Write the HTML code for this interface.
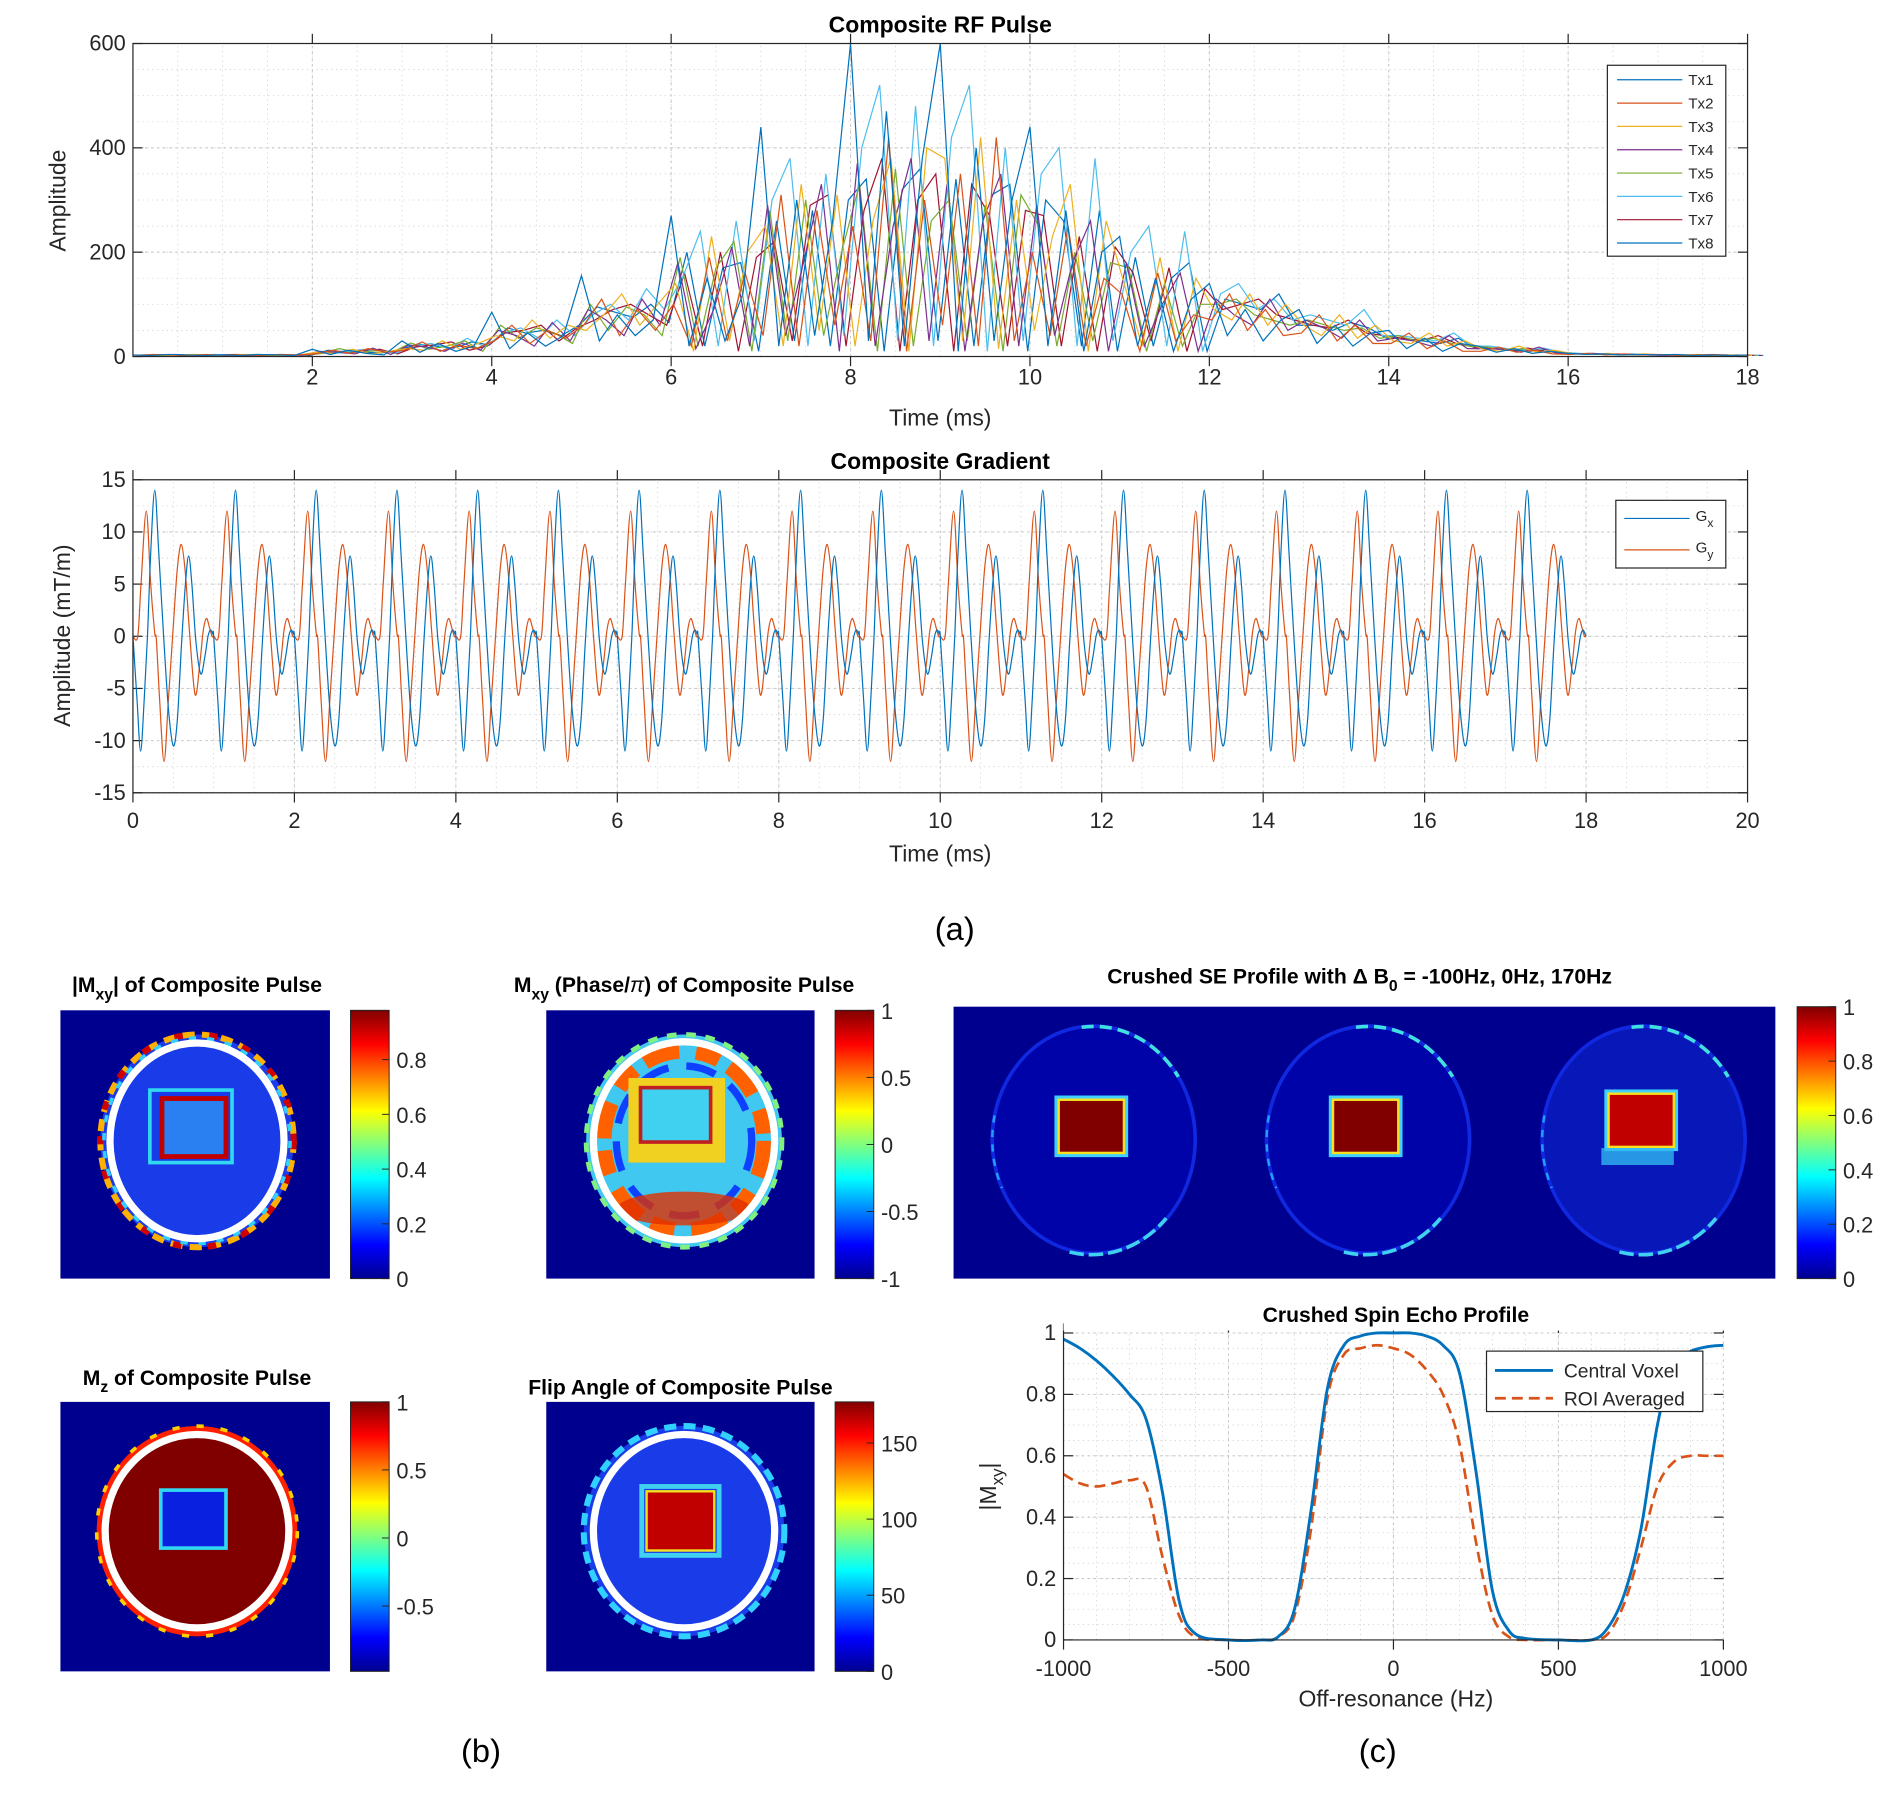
<!DOCTYPE html>
<html><head><meta charset="utf-8"><style>
html,body{margin:0;padding:0;background:#fff}
svg{display:block}
text{font-family:"Liberation Sans",Arial,sans-serif;fill:#262626}
.t{font-weight:bold;font-size:19px;fill:#000}
.tk{font-size:18px}
.lab{font-size:19px}
</style></head><body>
<svg id="fig" width="1895" height="1795" viewBox="0 0 1568 1485.3" preserveAspectRatio="none" xmlns="http://www.w3.org/2000/svg">
<defs>
<linearGradient id="jet" x1="0" y1="0" x2="0" y2="1">
<stop offset="0" stop-color="#800000"/><stop offset="0.125" stop-color="#ff0000"/><stop offset="0.375" stop-color="#ffff00"/><stop offset="0.625" stop-color="#00ffff"/><stop offset="0.875" stop-color="#0000ff"/><stop offset="1" stop-color="#00008f"/>
</linearGradient>
</defs>
<g id="root"></g>
</svg>
<script>
// ---------- RF pulse data (amplitude sampled every 0.2 ms) ----------
const rfTimeStep = 0.2;
const tx1 = [3,2,4,3,2,3,2,4,3,2, 14,4,12,6,3, 30,8,25,10,20, 85,15,45,20,40, 155,30,80,40,70, 270,20,150,30,120, 440,20,300,40,260, 600,30,470,20,380, 600,10,400,30,300, 440,20,280,10,200, 230,20,150,10,110, 140,40,90,30,70, 90,25,60,20,45, 50,15,35,10,25, 20,8,15,6,10, 6,4,5,3,4,3,4,2,3,2,3];
const tx2 = [2,4,3,2,4,2,3,2,4,3, 5,12,6,15,8, 12,28,10,22,15, 30,60,25,50,35, 60,110,40,90,50, 100,20,190,30,160, 40,310,20,280,60, 250,30,420,10,300, 60,350,20,420,30, 200,40,250,20,150, 120,10,160,30,80, 70,120,50,90,40, 45,80,30,60,25, 25,45,15,30,10, 10,18,8,12,5, 4,6,3,5,3,4,2,3,4,2,3];
const tx3 = [3,3,2,4,3,2,4,3,2,3, 8,6,14,5,10, 15,12,30,14,25, 40,30,70,35,60, 50,80,120,60,100, 140,10,230,30,200, 250,20,330,50,310, 20,260,380,10,400, 380,30,420,15,300, 50,230,330,10,260, 140,20,190,10,150, 90,70,120,60,100, 60,40,80,35,60, 30,25,45,20,30, 14,10,20,8,12, 5,4,6,3,5,3,3,4,2,3,2];
const tx4 = [2,3,4,2,3,3,2,3,4,2, 10,8,5,16,4, 22,18,10,26,12, 50,40,20,65,30, 90,70,40,110,60, 180,15,90,210,20, 290,40,180,330,10, 370,20,250,380,30, 330,10,260,350,20, 290,40,180,260,10, 180,20,100,160,10, 110,80,60,110,50, 70,55,35,70,30, 35,30,20,40,15, 15,14,8,18,6, 5,6,4,4,3,2,3,3,2,3,2];
const tx5 = [3,2,3,4,2,3,3,2,3,3, 6,15,8,11,9, 26,14,20,30,10, 60,35,55,45,25, 100,50,95,80,40, 190,20,170,220,10, 280,30,300,40,200, 330,10,360,20,260, 300,30,290,10,310, 250,20,200,30,180, 170,10,140,20,100, 100,110,80,70,60, 70,60,50,55,35, 40,30,35,25,20, 18,12,15,10,8, 5,4,4,3,3,3,2,3,3,2,2];
const tx6 = [2,2,3,3,4,2,2,3,3,4, 9,7,13,12,6, 20,25,15,35,18, 45,55,35,70,40, 80,100,70,130,90, 150,240,20,260,30, 300,380,20,350,40, 400,520,30,480,20, 420,520,10,400,30, 350,400,20,380,30, 200,250,20,240,10, 120,140,90,110,70, 80,70,60,90,40, 40,35,30,45,20, 20,15,12,16,8, 6,5,4,5,3,3,3,2,3,2,2];
const tx7 = [3,3,2,2,3,4,3,2,3,3, 7,10,9,14,5, 18,22,28,12,20, 45,50,60,30,55, 70,90,100,80,60, 160,20,200,10,190, 220,30,290,310,20, 280,380,10,300,350, 10,330,270,20,280, 270,20,230,10,210, 160,30,170,10,130, 90,100,110,80,70, 60,55,70,45,40, 35,30,40,25,18, 15,12,16,10,6, 5,4,5,3,4,3,3,2,3,2,2];
const tx8 = [2,3,2,3,3,2,4,3,3,2, 12,9,8,7,13, 24,20,16,28,22, 55,45,50,40,60, 95,85,75,100,65, 200,20,170,180,10, 260,30,280,20,300, 340,10,320,360,30, 340,20,310,330,10, 300,260,20,280,10, 190,20,150,180,10, 110,100,90,120,60, 60,50,65,55,35, 35,30,25,35,15, 16,12,10,14,6, 5,5,3,4,3,3,2,3,3,2,2];
const rfNames = ["Tx1","Tx2","Tx3","Tx4","Tx5","Tx6","Tx7","Tx8"];
const rfXTicks = [2,4,6,8,10,12,14,16,18];
const rfYTicks = [0,200,400,600];
// ---------- Gradient data (one 1 ms period, repeated 18 times) ----------
const gxT = [0,0.05,0.095,0.14,0.18,0.22,0.27,0.32,0.38,0.44,0.5,0.55,0.6,0.65,0.69,0.73,0.78,0.84,0.89,0.93,0.96,0.99];
const gxV = [0,-6,-11,-6,0,8,14,8,0,-7,-10.5,-8,-1,5,7.7,5,-0.5,-3.6,-2,0,0.6,0.2];
const gyT = [0,0.06,0.1,0.165,0.22,0.27,0.29,0.33,0.385,0.44,0.5,0.55,0.6,0.65,0.7,0.77,0.83,0.87,0.91,0.95,0.98];
const gyV = [0,0,5,12,5,0.3,-0.3,-6,-12,-6,1,6.5,8.8,6,0.5,-5.6,-2.5,0.5,1.7,0.8,0];
const gradPeriods = 18;
const gXTicks = [0,2,4,6,8,10,12,14,16,18,20];
const gYTicks = [-15,-10,-5,0,5,10,15];
// ---------- Crushed spin echo profile ----------
const profHz = [-1000,-950,-900,-850,-800,-750,-700,-650,-600,-500,-400,-350,-300,-250,-200,-150,-100,-50,0,50,100,150,200,250,300,350,400,500,600,650,700,750,800,850,900,950,1000];
const centralVoxel = [0.98,0.95,0.91,0.86,0.80,0.72,0.48,0.13,0.02,0,0,0.01,0.1,0.42,0.82,0.96,0.99,1.0,1.0,1.0,0.99,0.96,0.87,0.55,0.16,0.03,0.005,0,0,0.04,0.15,0.36,0.70,0.90,0.94,0.955,0.96];
const roiAveraged = [0.54,0.51,0.50,0.51,0.52,0.50,0.27,0.08,0.01,0,0,0.01,0.08,0.36,0.79,0.93,0.95,0.96,0.95,0.93,0.88,0.80,0.64,0.32,0.08,0.01,0,0,0,0.02,0.12,0.30,0.50,0.58,0.60,0.60,0.60];
const profXTicks = [-1000,-500,0,500,1000];
const profYTicks = [0,0.2,0.4,0.6,0.8,1];

const NS="http://www.w3.org/2000/svg";
const root=document.getElementById('root');
function el(tag,attrs,parent,txt){const e=document.createElementNS(NS,tag);for(const k in attrs)e.setAttribute(k,attrs[k]);if(txt!==undefined)e.textContent=txt;(parent||root).appendChild(e);return e;}
function smoothPath(pts){let d='M'+pts[0][0].toFixed(2)+','+pts[0][1].toFixed(2);for(let i=0;i<pts.length-1;i++){const p0=pts[Math.max(i-1,0)],p1=pts[i],p2=pts[i+1],p3=pts[Math.min(i+2,pts.length-1)];const c1=[p1[0]+(p2[0]-p0[0])/6,p1[1]+(p2[1]-p0[1])/6],c2=[p2[0]-(p3[0]-p1[0])/6,p2[1]-(p3[1]-p1[1])/6];d+='C'+c1[0].toFixed(2)+','+c1[1].toFixed(2)+' '+c2[0].toFixed(2)+','+c2[1].toFixed(2)+' '+p2[0].toFixed(2)+','+p2[1].toFixed(2);}return d;}
function axesFrame(g,x0,x1,y0,y1,xs,ys,xMinor,yMinor,xTicks,yTicks,fmtX,fmtY,tickY){
  xMinor.forEach(v=>{const x=xs(v);const l=el('line',{x1:x,x2:x,y1:y0,y2:y1,stroke:'#d0d0d0','stroke-width':0.7,'stroke-dasharray':'1,3'},g);});
  yMinor.forEach(v=>{const y=ys(v);const l=el('line',{x1:x0,x2:x1,y1:y,y2:y,stroke:'#d0d0d0','stroke-width':0.7,'stroke-dasharray':'1,3'},g);});
  xTicks.forEach(v=>{const x=xs(v);el('line',{x1:x,x2:x,y1:y0,y2:y1,stroke:'#c8c8c8','stroke-width':0.9,'stroke-dasharray':'2,3'},g);el('line',{x1:x,x2:x,y1:y1,y2:y1-8,stroke:'#262626','stroke-width':1},g);el('line',{x1:x,x2:x,y1:y0,y2:y0+8,stroke:'#262626','stroke-width':1},g);
    const t=el('text',{x:x,y:tickY,'text-anchor':'middle',class:'tk'},g,fmtX(v));});
  yTicks.forEach(v=>{const y=ys(v);el('line',{x1:x0,x2:x1,y1:y,y2:y,stroke:'#c8c8c8','stroke-width':0.9,'stroke-dasharray':'2,3'},g);el('line',{x1:x0,x2:x0+8,y1:y,y2:y,stroke:'#262626','stroke-width':1},g);el('line',{x1:x1,x2:x1-8,y1:y,y2:y,stroke:'#262626','stroke-width':1},g);
    const t=el('text',{x:x0-6,y:y+6,'text-anchor':'end',class:'tk'},g,fmtY(v));});
}
function range(a,b,s){const r=[];for(let v=a;v<=b+1e-9;v+=s)r.push(+v.toFixed(6));return r;}

// ================= RF plot =================
(function(){
  const g=el('g',{});  
  const x0=110,x1=1446,y0=295,y1=36;
  const xs=t=>x0+(t/18)*(x1-x0), ys=v=>y0-(v/600)*(y0-y1);
  el('rect',{x:x0,y:y1,width:x1-x0,height:y0-y1,fill:'#fff'},g);
  axesFrame(g,x0,x1,y0,y1,xs,ys,range(0.5,18,0.5),range(50,600,50),rfXTicks,rfYTicks,v=>v,v=>v,318);
  const colors=['#0072BD','#D95319','#EDB120','#7E2F8E','#77AC30','#4DBEEE','#A2142F','#0072BD'];
  const series=[tx1,tx2,tx3,tx4,tx5,tx6,tx7,tx8];
  const order=[7,6,5,4,3,2,1,0];
  order.forEach(k=>{const data=series[k];const pts=data.map((v,i)=>xs(i*rfTimeStep+k*0.025)+','+ys(v).toFixed(1));
    const p=el('polyline',{points:pts.join(' '),fill:'none',stroke:colors[k],'stroke-width':1},g);
     });
  el('rect',{x:x0,y:y1,width:x1-x0,height:y0-y1,fill:'none',stroke:'#262626','stroke-width':1},g);
  const tt=el('text',{x:778,y:27,'text-anchor':'middle',class:'t'},g,'Composite RF Pulse');  
  const xl=el('text',{x:778,y:352,'text-anchor':'middle',class:'lab'},g,'Time (ms)');  
  const yl=el('text',{x:0,y:0,'text-anchor':'middle',class:'lab',transform:'translate(54,166) rotate(-90)'},g,'Amplitude');  
  const lg=el('g',{},g);  
  el('rect',{x:1330,y:54,width:98,height:158,fill:'#fff',stroke:'#262626','stroke-width':1},lg);
  rfNames.forEach((n,i)=>{const y=66+i*19.3;el('line',{x1:1338,x2:1392,y1:y,y2:y,stroke:colors[i],'stroke-width':1},lg);
    const t=el('text',{x:1397,y:y+4.5,style:'font-size:12.5px'},lg,n);  });
})();

// ================= Gradient plot =================
(function(){
  const g=el('g',{});  
  const x0=110,x1=1446,y0=656,y1=397;
  const xs=t=>x0+(t/20)*(x1-x0), ys=v=>y0-((v+15)/30)*(y0-y1);
  axesFrame(g,x0,x1,y0,y1,xs,ys,range(0.5,20,0.5),range(-15,15,2.5),gXTicks,gYTicks,v=>v,v=>v,685);
  function build(T,V){const pts=[];for(let k=0;k<gradPeriods;k++){T.forEach((t,i)=>pts.push([xs(k+t),ys(V[i])]));}pts.push([xs(gradPeriods),ys(0)]);return pts;}
  const gy=el('path',{d:smoothPath(build(gyT,gyV)),fill:'none',stroke:'#D95319','stroke-width':1},g);  
  const gx=el('path',{d:smoothPath(build(gxT,gxV)),fill:'none',stroke:'#0072BD','stroke-width':1},g);  
  el('rect',{x:x0,y:y1,width:x1-x0,height:y0-y1,fill:'none',stroke:'#262626','stroke-width':1},g);
  const tt=el('text',{x:778,y:388,'text-anchor':'middle',class:'t'},g,'Composite Gradient');  
  const xl=el('text',{x:778,y:713,'text-anchor':'middle',class:'lab'},g,'Time (ms)');  
  const yl=el('text',{x:0,y:0,'text-anchor':'middle',class:'lab',transform:'translate(58,526) rotate(-90)'},g,'Amplitude (mT/m)');  
  const lg=el('g',{},g);  
  el('rect',{x:1337,y:414,width:91,height:56,fill:'#fff',stroke:'#262626','stroke-width':1},lg);
  el('line',{x1:1344,x2:1398,y1:429,y2:429,stroke:'#0072BD','stroke-width':1},lg);
  el('line',{x1:1344,x2:1398,y1:455,y2:455,stroke:'#D95319','stroke-width':1},lg);
  const a=el('text',{x:1403,y:431,style:'font-size:12.5px'},lg); a.innerHTML='G<tspan dy="5" style="font-size:10px">x</tspan>';  
  const b=el('text',{x:1403,y:457,style:'font-size:12.5px'},lg); b.innerHTML='G<tspan dy="5" style="font-size:10px">y</tspan>';  
})();

// ================= Panel labels =================
[['(a)',790,778,'panel-label-a'],['(b)',398,1458,'panel-label-b'],['(c)',1140,1458,'panel-label-c']].forEach(p=>{const t=el('text',{x:p[1],y:p[2],'text-anchor':'middle',style:'font-size:27px;fill:#000'},root,p[0]);});

// ================= Map images =================
function colorbar(name,x,y0,y1,ticks,fmt,vmin,vmax){
  const g=el('g',{});  
  el('rect',{x:x,y:y0,width:32,height:y1-y0,fill:'url(#jet)',stroke:'#262626','stroke-width':0.8},g);
  ticks.forEach(v=>{const y=y1-(v-vmin)/(vmax-vmin)*(y1-y0);el('line',{x1:x+26,x2:x+32,y1:y,y2:y,stroke:'#262626','stroke-width':0.8},g);
    const t=el('text',{x:x+38,y:y+7,class:'tk'},g,fmt(v));  });
}
function title(txt,x,y,name){const t=el('text',{x:x,y:y,'text-anchor':'middle',class:'t',style:'font-size:17.5px'});t.innerHTML=txt;}
const BG='#00008f';
// |Mxy|
(function(){const g=el('g',{});  
  el('rect',{x:50,y:836,width:223,height:222,fill:BG},g);
  el('ellipse',{cx:163,cy:944,rx:80,ry:88,fill:'#1a3ce8'},g);
  el('ellipse',{cx:163,cy:944,rx:80,ry:88,fill:'none',stroke:'#ffb000','stroke-width':5,'stroke-dasharray':'10,6'},g);
  el('ellipse',{cx:163,cy:944,rx:80,ry:88,fill:'none',stroke:'#d00000','stroke-width':5,'stroke-dasharray':'7,22'},g);
  el('ellipse',{cx:163,cy:944,rx:77,ry:85,fill:'none',stroke:'#30d0ff','stroke-width':3,'stroke-dasharray':'6,9'},g);
  el('ellipse',{cx:163,cy:944,rx:72,ry:81,fill:'none',stroke:'#fff','stroke-width':6},g);
  el('rect',{x:124,y:902,width:68,height:60,fill:'none',stroke:'#30d8f0','stroke-width':3},g);
  el('rect',{x:134,y:909,width:53,height:48,fill:'#2a80f0',stroke:'#c00000','stroke-width':4},g);
  colorbar('mxy-magnitude-colorbar',290,836,1058,[0,0.2,0.4,0.6,0.8],v=>v,0,0.98);
  title('|M<tspan dy="6" style="font-size:13px">xy</tspan><tspan dy="-6">| of Composite Pulse</tspan>',163,821,'mxy-magnitude-title');
})();
// Phase
(function(){const g=el('g',{});  
  el('rect',{x:452,y:836,width:222,height:222,fill:BG},g);
  el('ellipse',{cx:566,cy:944,rx:81,ry:88,fill:'#40c8f0'},g);
  el('ellipse',{cx:566,cy:944,rx:66,ry:74,fill:'none',stroke:'#ff6000','stroke-width':12,'stroke-dasharray':'30,14,20,10'},g);
  el('ellipse',{cx:566,cy:944,rx:56,ry:62,fill:'none',stroke:'#1040ff','stroke-width':6,'stroke-dasharray':'25,15'},g);
  el('ellipse',{cx:566,cy:1000,rx:55,ry:14,fill:'#e03000',opacity:0.8},g);
  el('rect',{x:520,y:892,width:80,height:70,fill:'#f0d020'},g);
  el('rect',{x:530,y:900,width:58,height:45,fill:'#40d0f0',stroke:'#c02020','stroke-width':3},g);
  el('ellipse',{cx:566,cy:944,rx:81,ry:88,fill:'none',stroke:'#80f080','stroke-width':4,'stroke-dasharray':'8,8'},g);
  el('ellipse',{cx:566,cy:944,rx:75,ry:82,fill:'none',stroke:'#fff','stroke-width':6},g);
  colorbar('mxy-phase-colorbar',691,836,1058,[-1,-0.5,0,0.5,1],v=>v,-1,1);
  title('M<tspan dy="6" style="font-size:13px">xy</tspan><tspan dy="-6"> (Phase/</tspan><tspan style="font-style:italic;font-weight:normal">π</tspan>) of Composite Pulse',566,821,'mxy-phase-title');
})();
// Mz
(function(){const g=el('g',{});  
  el('rect',{x:50,y:1160,width:223,height:223,fill:BG},g);
  el('ellipse',{cx:163,cy:1267,rx:83,ry:87,fill:'#ff2000'},g);
  el('ellipse',{cx:163,cy:1267,rx:83,ry:87,fill:'none',stroke:'#ffd000','stroke-width':3,'stroke-dasharray':'6,14'},g);
  el('ellipse',{cx:163,cy:1267,rx:76,ry:80,fill:'#800000',stroke:'#fff','stroke-width':6},g);
  el('rect',{x:133,y:1233,width:54,height:48,fill:'#0a20e0',stroke:'#30d8f0','stroke-width':3},g);
  colorbar('mz-colorbar',290,1160,1383,[-0.5,0,0.5,1],v=>v,-0.98,1);
  title('M<tspan dy="6" style="font-size:13px">z</tspan><tspan dy="-6"> of Composite Pulse</tspan>',163,1146,'mz-title');
})();
// Flip angle
(function(){const g=el('g',{});  
  el('rect',{x:452,y:1160,width:222,height:223,fill:BG},g);
  el('ellipse',{cx:566,cy:1267,rx:83,ry:87,fill:'#1a3ce8'},g);
  el('ellipse',{cx:566,cy:1267,rx:83,ry:87,fill:'none',stroke:'#30d0ff','stroke-width':5,'stroke-dasharray':'10,6'},g);
  el('ellipse',{cx:566,cy:1267,rx:75,ry:80,fill:'none',stroke:'#fff','stroke-width':6},g);
  el('rect',{x:531,y:1230,width:64,height:57,fill:'none',stroke:'#40d0f0','stroke-width':4},g);
  el('rect',{x:535,y:1234,width:56,height:49,fill:'#c00000',stroke:'#f0e020','stroke-width':2},g);
  colorbar('flip-angle-colorbar',691,1160,1383,[0,50,100,150],v=>v,0,177);
  title('Flip Angle of Composite Pulse',563,1154,'flip-angle-title');
})();
// Crushed SE maps
(function(){const g=el('g',{});  
  el('rect',{x:789,y:833,width:680,height:225,fill:BG},g);
  [[905,932,'#800000'],[1132,932,'#800000'],[1360,927,'#c00000']].forEach((c,i)=>{
    el('ellipse',{cx:c[0],cy:943,rx:84,ry:94,fill:i==2?'#0818b8':'#0004a8'},g);
    el('ellipse',{cx:c[0],cy:943,rx:84,ry:94,fill:'none',stroke:'#1028e0','stroke-width':3},g);
    el('path',{d:`M${c[0]-10},${943-93} A84,94 0 0 1 ${c[0]+70},${943-52}`,fill:'none',stroke:'#40e0e0','stroke-width':3,'stroke-dasharray':'10,5'},g);
    el('path',{d:`M${c[0]-20},${943+93} A84,94 0 0 0 ${c[0]+60},${943+65}`,fill:'none',stroke:'#40d0f0','stroke-width':3,'stroke-dasharray':'12,4'},g);
    el('path',{d:`M${c[0]-82},${943-20} A84,94 0 0 0 ${c[0]-76},${943+40}`,fill:'none',stroke:'#20a0ff','stroke-width':2,'stroke-dasharray':'6,6'},g);
    el('rect',{x:c[0]-31,y:c[1]-24,width:58,height:48,fill:'none',stroke:'#40d0ff','stroke-width':3},g);
    el('rect',{x:c[0]-29,y:c[1]-22,width:54,height:44,fill:c[2],stroke:'#f8e020','stroke-width':2},g);
  });
  el('rect',{x:1325,y:950,width:60,height:14,fill:'#30b8f0',opacity:0.8},g);
  colorbar('crushed-se-colorbar',1487,833,1058,[0,0.2,0.4,0.6,0.8,1],v=>v,0,1);
  title('Crushed SE Profile with Δ B<tspan dy="6" style="font-size:13px">0</tspan><tspan dy="-6"> = -100Hz, 0Hz, 170Hz</tspan>',1125,814,'crushed-se-title');
})();

// ================= Profile plot =================
(function(){
  const g=el('g',{});  
  const x0=880,x1=1426,y0=1357,y1=1103;
  const xs=f=>x0+(f+1000)/2000*(x1-x0), ys=v=>y0-v*(y0-y1);
  axesFrame(g,x0,x1,y0,y1,xs,ys,range(-900,900,100),range(0.05,1,0.05),profXTicks,profYTicks,v=>v,v=>v,1387);
  const red=el('path',{d:smoothPath(profHz.map((f,i)=>[xs(f),ys(roiAveraged[i])])),fill:'none',stroke:'#D95319','stroke-width':2.2,'stroke-dasharray':'9,5'},g);  
  const blue=el('path',{d:smoothPath(profHz.map((f,i)=>[xs(f),ys(centralVoxel[i])])),fill:'none',stroke:'#0072BD','stroke-width':2.4},g);  
  el('line',{x1:x0,x2:x0,y1:y1,y2:y0,stroke:'#262626','stroke-width':1},g);
  el('line',{x1:x0,x2:x1,y1:y0,y2:y0,stroke:'#262626','stroke-width':1},g);
  el('rect',{x:x1+1,y:y1-12,width:8,height:y0-y1+8,fill:'#fff'},g);
  el('rect',{x:x0,y:y1-14,width:x1-x0+8,height:12,fill:'#fff'},g);
  const tt=el('text',{x:1155,y:1094,'text-anchor':'middle',class:'t',style:'font-size:17.5px'},g,'Crushed Spin Echo Profile');  
  const xl=el('text',{x:1155,y:1412,'text-anchor':'middle',class:'lab'},g,'Off-resonance (Hz)');  
  const yl=el('text',{x:0,y:0,'text-anchor':'middle',class:'lab',transform:'translate(824,1230) rotate(-90)'},g); yl.innerHTML='|M<tspan dy="6" style="font-size:14px">xy</tspan><tspan dy="-6">|</tspan>';  
  const lg=el('g',{},g);  
  el('rect',{x:1230,y:1118,width:179,height:50,fill:'#fff',stroke:'#262626','stroke-width':1},lg);
  el('line',{x1:1237,x2:1285,y1:1134,y2:1134,stroke:'#0072BD','stroke-width':2.4},lg);
  el('line',{x1:1237,x2:1285,y1:1157,y2:1157,stroke:'#D95319','stroke-width':2.2,'stroke-dasharray':'9,5'},lg);
  const a=el('text',{x:1294,y:1140,style:'font-size:16px'},lg,'Central Voxel');  
  const b=el('text',{x:1294,y:1163,style:'font-size:16px'},lg,'ROI Averaged');  
})();
</script>
</body></html>
